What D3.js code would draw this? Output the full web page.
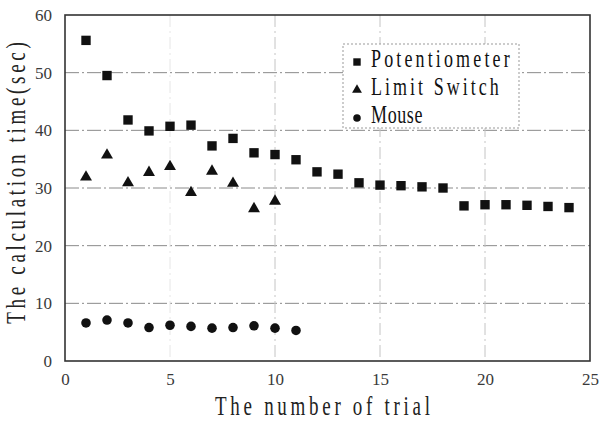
<!DOCTYPE html>
<html>
<head>
<meta charset="utf-8">
<script src="https://cdn.jsdelivr.net/npm/d3@7"></script>
<style>
  body { margin: 0; background: #fff; }
  svg { display: block; }
</style>
</head>
<body>
<div id="chart"></div>
<script>
// values
const potTrials = [1, 2, 3, 4, 5, 6, 7, 8, 9, 10, 11, 12, 13, 14, 15, 16, 17, 18, 19, 20, 21, 22, 23, 24];
const potValues = [55.6, 49.5, 41.8, 39.9, 40.7, 40.9, 37.3, 38.6, 36.1, 35.8, 34.9, 32.8, 32.4, 30.9, 30.5, 30.4, 30.2, 30.0, 26.9, 27.1, 27.1, 27.0, 26.8, 26.6];
const limTrials = [1, 2, 3, 4, 5, 6, 7, 8, 9, 10];
const limValues = [31.9, 35.7, 30.9, 32.7, 33.7, 29.2, 32.9, 30.8, 26.4, 27.7];
const mouseTrials = [1, 2, 3, 4, 5, 6, 7, 8, 9, 10, 11];
const mouseValues = [6.6, 7.1, 6.6, 5.8, 6.2, 6.0, 5.7, 5.8, 6.1, 5.7, 5.3];
const seriesNames = ['Potentiometer', 'Limit Switch', 'Mouse'];
const xTicks = [0, 5, 10, 15, 20, 25];
const yTicks = [0, 10, 20, 30, 40, 50, 60];

const width = 601;
const height = 426;
const margin = { top: 15, right: 11, bottom: 65, left: 65 };
const innerW = width - margin.left - margin.right;
const innerH = height - margin.top - margin.bottom;

// the original uses a narrow, tall serif face with fixed pitch;
// fake it with a serif font spread out to a fixed width per char
const labelFont = '"Liberation Serif", "DejaVu Serif", serif';
const tickFont = '"Liberation Serif", "DejaVu Serif", serif';
const charW = 11.1;

const svg = d3.select('#chart')
  .append('svg')
  .attr('width', width)
  .attr('height', height);

const g = svg.append('g')
  .attr('transform', `translate(${margin.left},${margin.top})`);

const x = d3.scaleLinear().domain([0, 25]).range([0, innerW]);
const y = d3.scaleLinear().domain([0, 60]).range([innerH, 0]);

// grid
g.selectAll('.hgrid')
  .data(yTicks.filter((d) => d > 0 && d < 60))
  .enter()
  .append('line')
  .attr('x1', 0)
  .attr('x2', innerW)
  .attr('y1', (d) => y(d))
  .attr('y2', (d) => y(d))
  .attr('stroke', '#8a8a8a')
  .attr('stroke-width', 1)
  .attr('stroke-dasharray', '14,3,2,3');

g.selectAll('.vgrid')
  .data(xTicks.filter((d) => d > 0 && d < 25))
  .enter()
  .append('line')
  .attr('x1', (d) => x(d))
  .attr('x2', (d) => x(d))
  .attr('y1', 0)
  .attr('y2', innerH)
  .attr('stroke', (d) => d === 5 ? '#e6e6e6' : '#c4c4c4')
  .attr('stroke-width', 1)
  .attr('stroke-dasharray', '12,4,2,4');

// axes (labels only, frame drawn separately)
const xAxis = g.append('g')
  .attr('transform', `translate(0,${innerH})`)
  .call(d3.axisBottom(x).tickValues(xTicks).tickSize(0).tickPadding(12));
const yAxis = g.append('g')
  .call(d3.axisLeft(y).tickValues(yTicks).tickSize(0).tickPadding(13));
[xAxis, yAxis].forEach((a) => {
  a.select('.domain').remove();
  a.selectAll('text')
    .attr('font-family', tickFont)
    .attr('font-size', '17px')
    .attr('fill', '#3a3a3a');
});

// frame
g.append('rect')
  .attr('x', 0)
  .attr('y', 0)
  .attr('width', innerW)
  .attr('height', innerH)
  .attr('fill', 'none')
  .attr('stroke', '#333')
  .attr('stroke-width', 1.6);

// markers
const sq = d3.symbol().type(d3.symbolSquare).size(88);
const tri = d3.symbol().type(d3.symbolTriangle).size(62);
const circ = d3.symbol().type(d3.symbolCircle).size(72);

g.selectAll('.pot')
  .data(potTrials.map((t, i) => [t, potValues[i]]))
  .enter()
  .append('path')
  .attr('d', sq)
  .attr('transform', (d) => `translate(${x(d[0])},${y(d[1])})`)
  .attr('fill', '#111');

g.selectAll('.lim')
  .data(limTrials.map((t, i) => [t, limValues[i]]))
  .enter()
  .append('path')
  .attr('d', tri)
  .attr('transform', (d) => `translate(${x(d[0])},${y(d[1])})`)
  .attr('fill', '#111');

g.selectAll('.mouse')
  .data(mouseTrials.map((t, i) => [t, mouseValues[i]]))
  .enter()
  .append('path')
  .attr('d', circ)
  .attr('transform', (d) => `translate(${x(d[0])},${y(d[1])})`)
  .attr('fill', '#111');

// legend
const legend = svg.append('g').attr('transform', 'translate(343,44)');
legend.append('rect')
  .attr('width', 176)
  .attr('height', 84)
  .attr('fill', '#fff')
  .attr('stroke', '#999')
  .attr('stroke-width', 1)
  .attr('stroke-dasharray', '2,2');
const legendSymbols = [
  d3.symbol().type(d3.symbolSquare).size(55),
  d3.symbol().type(d3.symbolTriangle).size(42),
  d3.symbol().type(d3.symbolCircle).size(45)
];
seriesNames.forEach((name, i) => {
  const row = legend.append('g').attr('transform', `translate(0,${17 + i * 28})`);
  row.append('path')
    .attr('d', legendSymbols[i])
    .attr('transform', 'translate(14,1)')
    .attr('fill', '#111');
  row.append('text')
    .attr('transform', 'translate(28,6) scale(1,1.35)')
    .attr('font-family', labelFont)
    .attr('font-size', '18px')
    .attr('fill', '#111')
    .attr('textLength', name.length * 10.9 - 3)
    .attr('lengthAdjust', 'spacing')
    .text(name);
});

// axis titles
const xTitle = 'The number of trial';
svg.append('text')
  .attr('transform', `translate(${margin.left + innerW / 2 - 5},415) scale(1,1.4)`)
  .attr('text-anchor', 'middle')
  .attr('font-family', labelFont)
  .attr('font-size', '19px')
  .attr('fill', '#222')
  .attr('textLength', xTitle.length * charW + 4)
  .attr('lengthAdjust', 'spacing')
  .text(xTitle);

const yTitle = 'The calculation time(sec)';
svg.append('text')
  .attr('transform', 'translate(25,183) rotate(-90) scale(1,1.4)')
  .attr('text-anchor', 'middle')
  .attr('font-family', labelFont)
  .attr('font-size', '19px')
  .attr('fill', '#222')
  .attr('textLength', yTitle.length * charW + 4)
  .attr('lengthAdjust', 'spacing')
  .text(yTitle);
</script>
</body>
</html>
